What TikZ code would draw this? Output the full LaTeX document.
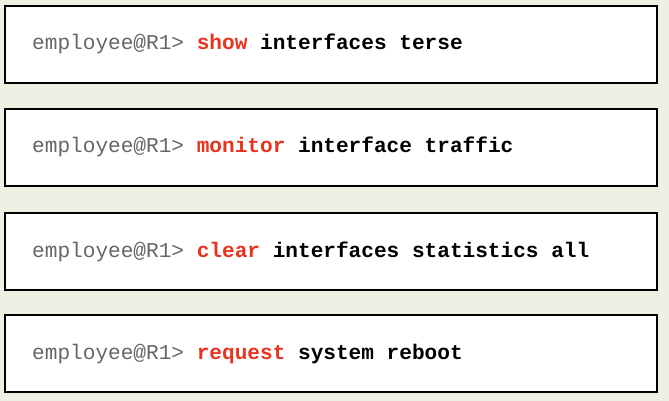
\documentclass[tikz,border=0pt]{standalone}
\usepackage{fontspec}
\setmonofont{Liberation Mono}
\definecolor{bg}{HTML}{EDF1E3}
\definecolor{cmdred}{HTML}{E8341F}
\definecolor{prompt}{HTML}{666666}
\begin{document}
\begin{tikzpicture}[x=1pt,y=-1pt,
  cmdbox/.style={draw=black,line width=2.4pt,fill=white},
  cmdtext/.style={anchor=base west,inner sep=0pt,font=\ttfamily\fontsize{21.1}{24}\selectfont}]
\fill[bg] (0,0) rectangle (669,401);
\useasboundingbox (0,0) rectangle (669,401);
\newcommand{\pr}{\textcolor{prompt}{employee@R1>}\ }
\newcommand{\cm}[1]{\textcolor{cmdred}{\bfseries #1}}
\draw[cmdbox] (5,6) rectangle node[coordinate] (b1) {} (657,83);
\draw[cmdbox] (5,109) rectangle node[coordinate] (b2) {} (657,186);
\draw[cmdbox] (5,213) rectangle node[coordinate] (b3) {} (657,290);
\draw[cmdbox] (5,315) rectangle node[coordinate] (b4) {} (657,392);
\node[cmdtext] (t1) at (32,49.5) {\pr\cm{show} \textbf{interfaces terse}};
\node[cmdtext] (t2) at (32,153) {\pr\cm{monitor} \textbf{interface traffic}};
\node[cmdtext] (t3) at (32,257) {\pr\cm{clear} \textbf{interfaces statistics all}};
\node[cmdtext] (t4) at (32,359) {\pr\cm{request} \textbf{system reboot}};
\end{tikzpicture}
\end{document}
